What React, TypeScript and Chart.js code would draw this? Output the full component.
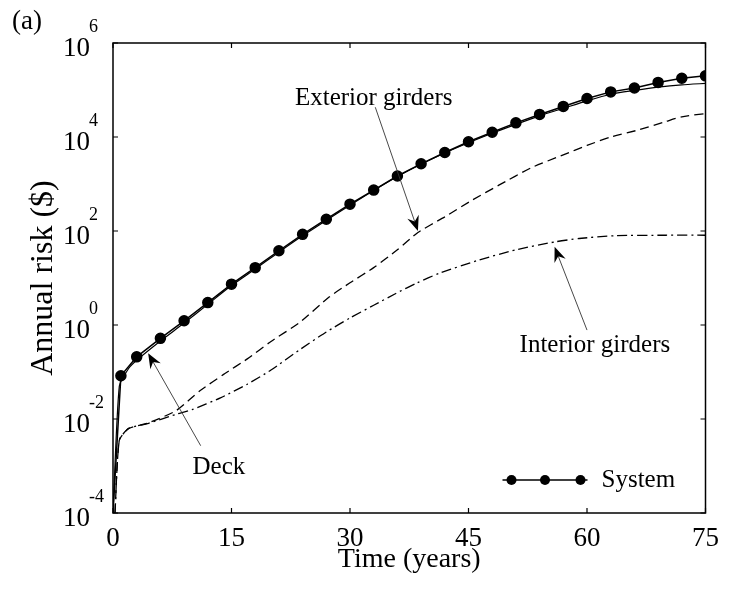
import React, { useEffect, useRef } from 'react';
import { Chart, registerables } from 'chart.js';

Chart.register(...registerables);

const SERIF = '"Liberation Serif", "Times New Roman", Times, serif';

// ---- data ----
const systemTime = [0, 1, 3, 6, 9, 12, 15, 18, 21, 24, 27, 30, 33, 36, 39, 42, 45, 48, 51, 54, 57, 60, 63, 66, 69, 72, 75];
const systemRisk = [0.0001, 0.083, 0.21, 0.52, 1.23, 3.0, 7.4, 16.6, 38, 85, 178, 372, 741, 1480, 2690, 4680, 7940, 12600, 20000, 30200, 44700, 66100, 91200, 110000, 145000, 178000, 200000];

const deckTime = [0, 0.8, 2, 3, 6, 9, 12, 15, 18, 21, 24, 30, 36, 42, 48, 54, 57, 60, 63, 66, 69, 72, 75];
const deckRisk = [0.0001, 0.05, 0.12, 0.178, 0.457, 1.1, 2.75, 6.9, 15.5, 35.5, 79, 355, 1450, 4570, 12000, 28200, 40700, 58900, 81300, 97700, 115000, 129000, 138000];

const exteriorTime = [0.25, 0.8, 2, 4.5, 8, 11, 14, 17, 20, 23.6, 27.4, 30, 33, 36, 38.6, 42, 45.5, 48.9, 53, 57, 60, 63, 66.5, 70, 72, 75];
const exteriorRisk = [0.0001, 0.00355, 0.0063, 0.0083, 0.0151, 0.0398, 0.089, 0.19, 0.447, 1.12, 3.98, 7.9, 16.6, 39.8, 93, 200, 457, 955, 2240, 4170, 6610, 10000, 14100, 21400, 26900, 31600];

const interiorTime = [0.25, 0.8, 2, 4.5, 8, 10, 13.6, 17, 20, 23.6, 27, 30, 33, 35.8, 38.5, 41.3, 46.3, 51, 56, 59, 63.6, 70, 75];
const interiorRisk = [0.0001, 0.00355, 0.0063, 0.0081, 0.0126, 0.0158, 0.0282, 0.055, 0.11, 0.295, 0.71, 1.41, 2.63, 4.68, 7.9, 12.6, 24, 39.8, 58.9, 69.2, 79.4, 81.3, 81.3];

const xTicks = [0, 15, 30, 45, 60, 75];
const yTickExponents = [-4, -2, 0, 2, 4, 6];

// annotation anchors in data space: [label, textT, textV, fromT, fromV, tipT, tipV]
const annotations: [string, number, number, number, number, number, number][] = [
  ['Exterior girders', 33.0, 67600, 33.2, 43000, 38.6, 100],
  ['Deck', 13.4, 0.00095, 11.1, 0.0027, 4.45, 0.25],
  ['Interior girders', 61.0, 0.36, 60.0, 0.78, 55.9, 46],
];

const toPoints = (t: number[], v: number[]) => t.map((x, i) => ({ x, y: v[i] }));

function drawArrow(ctx: CanvasRenderingContext2D, x1: number, y1: number, x2: number, y2: number) {
  const ang = Math.atan2(y2 - y1, x2 - x1);
  const L = 15, W = 6, N = 10;
  const c = Math.cos(ang), s = Math.sin(ang);
  ctx.beginPath();
  ctx.moveTo(x1, y1);
  ctx.lineTo(x2 - c * N, y2 - s * N);
  ctx.lineWidth = 0.9;
  ctx.strokeStyle = '#333';
  ctx.setLineDash([]);
  ctx.stroke();
  const bx = x2 - c * L, by = y2 - s * L;
  const px = -s, py = c;
  ctx.beginPath();
  ctx.moveTo(x2, y2);
  ctx.lineTo(bx + px * W, by + py * W);
  ctx.lineTo(x2 - c * N, y2 - s * N);
  ctx.lineTo(bx - px * W, by - py * W);
  ctx.closePath();
  ctx.fillStyle = '#000';
  ctx.fill();
}

const decorPlugin = {
  id: 'decor',
  afterDraw(chart: any) {
    const { ctx, chartArea: a, scales } = chart;
    const xs = scales.x, ys = scales.y;
    ctx.save();
    ctx.setLineDash([]);
    // frame
    ctx.strokeStyle = '#000';
    ctx.lineWidth = 1.5;
    ctx.strokeRect(a.left, a.top, a.right - a.left, a.bottom - a.top);
    // inward ticks
    ctx.lineWidth = 1.2;
    ctx.beginPath();
    for (const v of xTicks) {
      const px = xs.getPixelForValue(v);
      ctx.moveTo(px, a.bottom); ctx.lineTo(px, a.bottom - 5);
      ctx.moveTo(px, a.top); ctx.lineTo(px, a.top + 5);
    }
    for (const e of yTickExponents) {
      const py = ys.getPixelForValue(Math.pow(10, e));
      ctx.moveTo(a.left, py); ctx.lineTo(a.left + 5, py);
      ctx.moveTo(a.right, py); ctx.lineTo(a.right - 5, py);
    }
    ctx.stroke();
    // exponents of y tick labels
    ctx.fillStyle = '#000';
    ctx.font = `18px ${SERIF}`;
    ctx.textAlign = 'left';
    ctx.textBaseline = 'middle';
    for (const e of yTickExponents) {
      const py = ys.getPixelForValue(Math.pow(10, e));
      ctx.fillText(String(e), a.left - 24, py - 16);
    }
    // panel label
    ctx.font = `27px ${SERIF}`;
    ctx.fillText('(a)', 12, 22);
    // annotations
    ctx.font = `25px ${SERIF}`;
    ctx.textAlign = 'center';
    for (const [label, tt, tv, ft, fv, pt, pv] of annotations) {
      ctx.fillStyle = '#000';
      ctx.fillText(label, xs.getPixelForValue(tt), ys.getPixelForValue(tv));
      drawArrow(ctx, xs.getPixelForValue(ft), ys.getPixelForValue(fv), xs.getPixelForValue(pt), ys.getPixelForValue(pv));
    }
    // legend (bottom right)
    const ly = a.bottom - 33;
    const lx0 = a.right - 203, lx1 = a.right - 118;
    ctx.strokeStyle = '#000';
    ctx.lineWidth = 1.5;
    ctx.beginPath(); ctx.moveTo(lx0, ly); ctx.lineTo(lx1, ly); ctx.stroke();
    ctx.fillStyle = '#000';
    for (const mx of [lx0 + 9, (lx0 + lx1) / 2, lx1 - 7]) {
      ctx.beginPath(); ctx.arc(mx, ly, 5, 0, Math.PI * 2); ctx.fill();
    }
    ctx.textAlign = 'left';
    ctx.font = `25px ${SERIF}`;
    ctx.fillText('System', a.right - 104, ly);
    ctx.restore();
  },
};

export default function App() {
  const ref = useRef<HTMLCanvasElement>(null);
  useEffect(() => {
    if (!ref.current) return;
    const chart = new Chart(ref.current, {
      type: 'line',
      data: {
        datasets: [
          {
            label: 'Interior girders',
            data: toPoints(interiorTime, interiorRisk),
            borderColor: '#000',
            borderWidth: 1.3,
            borderDash: [10, 4, 2, 4],
            pointRadius: 0,
            tension: 0.2,
          },
          {
            label: 'Exterior girders',
            data: toPoints(exteriorTime, exteriorRisk),
            borderColor: '#000',
            borderWidth: 1.3,
            borderDash: [9, 5],
            pointRadius: 0,
            tension: 0.2,
          },
          {
            label: 'Deck',
            data: toPoints(deckTime, deckRisk),
            borderColor: '#000',
            borderWidth: 1.2,
            pointRadius: 0,
            tension: 0.2,
          },
          {
            label: 'System',
            data: toPoints(systemTime, systemRisk),
            borderColor: '#000',
            borderWidth: 1.5,
            backgroundColor: '#000',
            pointBackgroundColor: '#000',
            pointBorderColor: '#000',
            pointRadius: (c: any) => (c.dataIndex === 0 ? 0 : 5),
            tension: 0,
          },
        ],
      },
      options: {
        responsive: false,
        animation: false,
        layout: { padding: { top: 43, right: 21, left: 0, bottom: 0 } },
        plugins: { legend: { display: false }, tooltip: { enabled: false } },
        scales: {
          x: {
            type: 'linear',
            min: 0,
            max: 75,
            grid: { display: false, drawTicks: false },
            border: { display: false },
            ticks: {
              stepSize: 15,
              color: '#000',
              font: { family: SERIF, size: 27 },
              padding: 10,
              maxRotation: 0,
            },
            title: {
              display: true,
              text: 'Time (years)',
              color: '#000',
              font: { family: SERIF, size: 28 },
              padding: { top: 0, bottom: 24 },
            },
            afterFit: (s: any) => { s.height = 87; },
          },
          y: {
            type: 'logarithmic',
            min: 1e-4,
            max: 1e6,
            grid: { display: false, drawTicks: false },
            border: { display: false },
            afterBuildTicks: (s: any) => {
              s.ticks = yTickExponents.map((e) => ({ value: Math.pow(10, e) }));
            },
            ticks: {
              autoSkip: false,
              color: '#000',
              font: { family: SERIF, size: 27 },
              padding: 23,
              labelOffset: 6,
              callback: () => '10',
            },
            title: {
              display: true,
              text: 'Annual risk ($)',
              color: '#000',
              font: { family: SERIF, size: 32 },
              padding: { top: 24, bottom: 0 },
            },
            afterFit: (s: any) => { s.width = 113; },
          },
        },
      },
      plugins: [decorPlugin],
    } as any);
    return () => chart.destroy();
  }, []);
  return (
    <div style={{ position: 'absolute', left: 0, top: 0, width: 729, height: 600, background: '#fff' }}>
      <canvas ref={ref} width={729} height={600} />
    </div>
  );
}
